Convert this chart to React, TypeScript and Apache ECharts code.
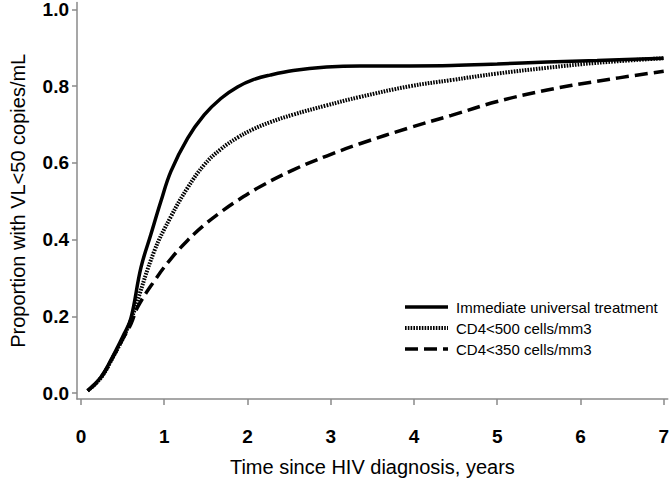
import React, { useEffect, useRef } from "react";
import * as echarts from "echarts";

const seriesNames = [
  "Immediate universal treatment",
  "CD4<500 cells/mm3",
  "CD4<350 cells/mm3",
];

const xTicks = [0, 1, 2, 3, 4, 5, 6, 7];
const yTicks = [0, 0.2, 0.4, 0.6, 0.8, 1.0];

const immediateT = [0.08, 0.24, 0.4, 0.52, 0.6, 0.72, 0.84, 0.96, 1.08, 1.28, 1.48, 1.68, 1.88, 2.07, 2.27, 2.55, 2.95, 3.35, 3.95, 4.45, 5.0, 5.6, 6.2, 7.0];
const immediateV = [0.006, 0.042, 0.103, 0.155, 0.195, 0.327, 0.414, 0.5, 0.578, 0.664, 0.725, 0.768, 0.798, 0.817, 0.829, 0.841, 0.85, 0.853, 0.853, 0.854, 0.858, 0.863, 0.867, 0.873];

const cd500T = [0.08, 0.24, 0.4, 0.52, 0.6, 0.64, 0.88, 1.08, 1.28, 1.48, 1.68, 1.88, 2.07, 2.27, 2.55, 2.95, 3.35, 3.95, 4.45, 5.0, 5.6, 6.2, 7.0];
const cd500V = [0.006, 0.04, 0.1, 0.15, 0.19, 0.215, 0.37, 0.46, 0.535, 0.595, 0.636, 0.666, 0.688, 0.706, 0.726, 0.75, 0.772, 0.8, 0.816, 0.833, 0.848, 0.861, 0.873];

const cd350T = [0.08, 0.24, 0.4, 0.52, 0.6, 0.68, 0.88, 1.08, 1.28, 1.48, 1.68, 1.88, 2.15, 2.55, 2.95, 3.35, 3.95, 4.45, 5.0, 5.6, 6.2, 7.0];
const cd350V = [0.006, 0.04, 0.1, 0.148, 0.18, 0.224, 0.292, 0.35, 0.398, 0.438, 0.472, 0.502, 0.538, 0.582, 0.618, 0.65, 0.692, 0.724, 0.76, 0.79, 0.813, 0.839];

const zip = (t: number[], v: number[]) => t.map((x, i) => [x, v[i]]);

const FONT = "'Liberation Sans', Arial, sans-serif";

const lineStyles: any[] = [
  { width: 3.5, type: "solid", dash: null as any },
  { width: 4, type: [1.6, 1.2], dash: [1.6, 1.2] },
  { width: 3.5, type: [13, 6], dash: [13, 6] },
];

export default function App() {
  const ref = useRef<HTMLDivElement>(null);
  useEffect(() => {
    if (!ref.current) return;
    const chart = echarts.init(ref.current, undefined, { renderer: "svg" });
    const axisGray = "#8a8a8a";
    const legendX = 405;
    const legendY0 = 307;
    const legendDy = 21;
    const legendGraphics: any[] = [];
    seriesNames.forEach((name, i) => {
      const y = legendY0 + i * legendDy;
      legendGraphics.push({
        type: "line",
        shape: { x1: legendX, y1: y, x2: legendX + 43, y2: y },
        style: {
          stroke: "#000",
          lineWidth: lineStyles[i].width,
          lineDash: lineStyles[i].dash || undefined,
        },
        silent: true,
      });
      legendGraphics.push({
        type: "text",
        x: legendX + 51,
        y,
        style: {
          text: name,
          fill: "#000",
          font: `15px ${FONT}`,
          verticalAlign: "middle",
          align: "left",
        },
        silent: true,
      });
    });
    const series = [
      zip(immediateT, immediateV),
      zip(cd500T, cd500V),
      zip(cd350T, cd350V),
    ].map((data, i) => ({
      name: seriesNames[i],
      type: "line",
      data,
      smooth: 0.4,
      showSymbol: false,
      symbol: "none",
      lineStyle: { color: "#000", width: lineStyles[i].width, type: lineStyles[i].type },
      itemStyle: { color: "#000" },
    }));
    chart.setOption({
      animation: false,
      backgroundColor: "#ffffff",
      grid: { left: 76, right: 3, top: 0, bottom: 84, containLabel: false },
      graphic: legendGraphics,
      xAxis: {
        type: "value",
        min: -0.048,
        max: 7.048,
        name: "Time since HIV diagnosis, years",
        nameLocation: "middle",
        nameGap: 58,
        nameTextStyle: { fontFamily: FONT, fontSize: 20, color: "#000" },
        axisLine: { show: true, onZero: false, lineStyle: { color: axisGray, width: 1.5 } },
        axisTick: { show: true, length: 6, customValues: xTicks, lineStyle: { color: axisGray, width: 1.5 } },
        axisLabel: {
          customValues: xTicks,
          margin: 28,
          fontFamily: FONT,
          fontSize: 19,
          fontWeight: "bold",
          color: "#000",
          formatter: (v: number) => String(Math.round(v)),
        },
        splitLine: { show: false },
      },
      yAxis: {
        type: "value",
        min: -0.0155,
        max: 1.018,
        name: "Proportion with VL<50 copies/mL",
        nameLocation: "middle",
        nameGap: 49,
        nameTextStyle: { fontFamily: FONT, fontSize: 20, color: "#000" },
        axisLine: { show: true, onZero: false, lineStyle: { color: axisGray, width: 1.5 } },
        axisTick: { show: true, length: 5, customValues: yTicks, lineStyle: { color: axisGray, width: 1.5 } },
        axisLabel: {
          customValues: yTicks,
          margin: 8,
          fontFamily: FONT,
          fontSize: 19,
          fontWeight: "bold",
          color: "#000",
          formatter: (v: number) => v.toFixed(1),
        },
        splitLine: { show: false },
      },
      series,
    });
    return () => chart.dispose();
  }, []);
  return (
    <div
      ref={ref}
      style={{ position: "fixed", left: 0, top: 0, width: 672, height: 483, background: "#fff" }}
    />
  );
}
